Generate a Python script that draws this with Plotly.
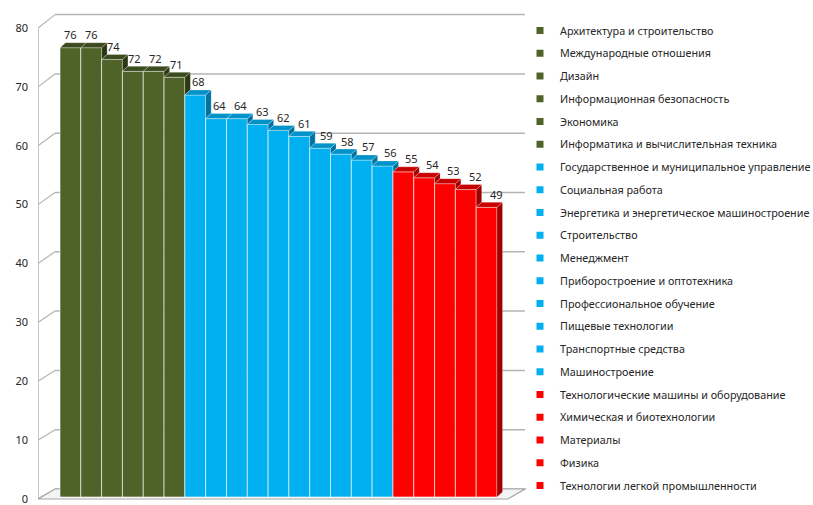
import plotly.graph_objects as go

# ---- data -------------------------------------------------------------
categories = [
    "Архитектура и строительство",
    "Международные отношения",
    "Дизайн",
    "Информационная безопасность",
    "Экономика",
    "Информатика и вычислительная техника",
    "Государственное и муниципальное управление",
    "Социальная работа",
    "Энергетика и энергетическое машиностроение",
    "Строительство",
    "Менеджмент",
    "Приборостроение и оптотехника",
    "Профессиональное обучение",
    "Пищевые технологии",
    "Транспортные средства",
    "Машиностроение",
    "Технологические машины и оборудование",
    "Химическая и биотехнологии",
    "Материалы",
    "Физика",
    "Технологии легкой промышленности",
]
values = [76, 76, 74, 72, 72, 71, 68, 64, 64, 63, 62, 61, 59, 58, 57, 56, 55, 54, 53, 52, 49]
groups = ["high"] * 6 + ["mid"] * 10 + ["low"] * 5
y_ticks = [0, 10, 20, 30, 40, 50, 60, 70, 80]

# ---- style ------------------------------------------------------------
PALETTE = {
    "high": dict(front="#4f6228", top="#3d4c1e", side="#2c3814"),
    "mid": dict(front="#00b0f0", top="#0092c9", side="#0073a0"),
    "low": dict(front="#ff0000", top="#c80000", side="#a00000"),
}
TEXT = "#262626"
GRID = "#b4b4b4"
FONT = "Noto Sans"

W, H = 813, 505
PL, PR, PT, PB = 38, 530, 10, 500          # plot area in pixels
BAR0, BARW = 60.0, (497.0 - 60.0) / 21     # first bar edge, bar width (px)
DEPTH_DX, DEPTH_DY = 5.5, 5.0              # bar depth offset (px)

# pixel <-> data helpers
def x_of(px):
    return (px - (BAR0 + BARW / 2)) / BARW

def front_px(v):          # front axis scale
    return 499.0 - v * 5.8875

def back_px(v):           # back wall scale
    return 489.0 - v * 5.93

def y2_of(px):            # bar front-plane scale
    return (497.0 - px) / 5.9125

def y1_of(px):            # tick-label scale
    return (499.0 - px) / 5.8875

dx = DEPTH_DX / BARW
dy = DEPTH_DY / 5.9125

fig = go.Figure()

# ---- bar front faces --------------------------------------------------
idx = list(range(len(values)))
fig.add_trace(go.Bar(
    x=idx, y=values, yaxis="y2", width=1.0,
    marker=dict(color=[PALETTE[g]["front"] for g in groups],
                line=dict(color="rgba(255,255,255,0.6)", width=1)),
    showlegend=False, hoverinfo="skip",
))

# ---- top and side faces (oblique projection) -------------------------
for g in ["high", "mid", "low"]:
    tx, ty, sx, sy = [], [], [], []
    for i, (v, gg) in enumerate(zip(values, groups)):
        if gg != g:
            continue
        xl, xr = i - 0.5, i + 0.5
        tx += [xl, xr, xr + dx, xl + dx, xl, None]
        ty += [v, v, v + dy, v + dy, v, None]
        nxt = values[i + 1] if i + 1 < len(values) else 0
        sx += [xr, xr, xr + dx, xr + dx, xr, None]
        sy += [nxt, v, v + dy, nxt + dy, nxt, None]
    fig.add_trace(go.Scatter(x=sx, y=sy, yaxis="y2", mode="lines", fill="toself",
                             fillcolor=PALETTE[g]["side"],
                             line=dict(color="rgba(255,255,255,0.35)", width=0.6),
                             showlegend=False, hoverinfo="skip"))
    fig.add_trace(go.Scatter(x=tx, y=ty, yaxis="y2", mode="lines", fill="toself",
                             fillcolor=PALETTE[g]["top"],
                             line=dict(color="rgba(255,255,255,0.45)", width=0.6),
                             showlegend=False, hoverinfo="skip"))

# ---- legend entries ---------------------------------------------------
for i, (name, g) in enumerate(zip(categories, groups)):
    fig.add_trace(go.Scatter(
        x=[None], y=[None], mode="markers", name=name, legendgroup=f"g{i}",
        marker=dict(symbol="square", size=7, color=PALETTE[g]["front"]),
        hoverinfo="skip",
    ))

# ---- walls and floor --------------------------------------------------
shapes = []
wall_l, wall_r = x_of(55), x_of(525)
axis_x = x_of(PL)
for t in y_ticks:
    # back wall gridline
    shapes.append(dict(type="line", xref="x", yref="y2", layer="below",
                       x0=wall_l, x1=wall_r, y0=y2_of(back_px(t)), y1=y2_of(back_px(t)),
                       line=dict(color=GRID, width=1.5)))
    # side wall gridline
    shapes.append(dict(type="line", xref="x", yref="y2", layer="below",
                       x0=axis_x, x1=wall_l, y0=y2_of(front_px(t)), y1=y2_of(back_px(t)),
                       line=dict(color=GRID, width=1.2)))
# front vertical axis
shapes.append(dict(type="line", xref="x", yref="y2", layer="below",
                   x0=axis_x, x1=axis_x, y0=y2_of(front_px(0)), y1=y2_of(front_px(80)),
                   line=dict(color=GRID, width=1.5)))
# floor slab
fx = [axis_x, x_of(508), x_of(525), wall_l]
fy = [y2_of(front_px(0)), y2_of(front_px(0)), y2_of(back_px(0)), y2_of(back_px(0))]
path = "M {} {} L {} {} L {} {} L {} {} Z".format(fx[0], fy[0], fx[1], fy[1], fx[2], fy[2], fx[3], fy[3])
shapes.append(dict(type="path", xref="x", yref="y2", layer="below", path=path,
                   fillcolor="#f4f4f4", line=dict(color="#a6a6a6", width=1.2)))

# ---- value labels -----------------------------------------------------
annotations = []
for i, v in enumerate(values):
    annotations.append(dict(x=i, y=v, xref="x", yref="y2", text=str(v), showarrow=False,
                            yshift=13, xshift=0.5 * i,
                            font=dict(family=FONT, size=11, color=TEXT)))

fig.update_layout(
    width=W, height=H,
    margin=dict(l=PL, r=W - PR, t=PT, b=H - PB, pad=0, autoexpand=False),
    paper_bgcolor="white", plot_bgcolor="rgba(0,0,0,0)",
    font=dict(family=FONT, size=11, color=TEXT),
    barmode="overlay",
    xaxis=dict(range=[x_of(PL), x_of(PR)], visible=False, fixedrange=True),
    yaxis=dict(range=[y1_of(PB), y1_of(PT)], tickvals=y_ticks, ticktext=[str(t) for t in y_ticks],
               showgrid=False, zeroline=False, showline=False, ticks="",
               ticklabelstandoff=9, ticklabeloverflow="allow", automargin=False,
               tickfont=dict(family=FONT, size=11, color=TEXT)),
    yaxis2=dict(range=[y2_of(PB), y2_of(PT)], overlaying="y", visible=False),
    shapes=shapes,
    annotations=annotations,
    showlegend=True,
    legend=dict(x=(520 - PL) / (PR - PL), xanchor="left", y=(PB - 16) / (PB - PT), yanchor="top",
                traceorder="grouped", tracegroupgap=3.75, bgcolor="rgba(0,0,0,0)",
                font=dict(family=FONT, size=10.8, color=TEXT), itemwidth=30),
)

fig.write_html("out.html")
